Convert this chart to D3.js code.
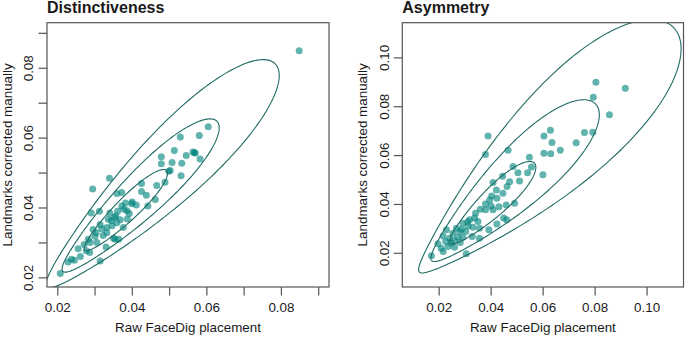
<!DOCTYPE html>
<html>
<head>
<meta charset="utf-8">
<script src="https://cdn.jsdelivr.net/npm/d3@7"></script>
<style>
  body { margin: 0; background: #fff; }
  text { font-family: "Liberation Sans", Arial, sans-serif; fill: #1a1a1a; }
</style>
</head>
<body>
<div id="chart"></div>
<script>
// Distinctiveness scores per face: raw FaceDig placement vs landmarks corrected manually
const distRaw = [0.0849, 0.0605, 0.0581, 0.0530, 0.0514, 0.0564, 0.0570, 0.0546, 0.0479, 0.0583,
  0.0479, 0.0508, 0.0534, 0.0499, 0.0503, 0.0532, 0.0489, 0.0467, 0.0340, 0.0295,
  0.0426, 0.0360, 0.0373, 0.0426, 0.0439, 0.0463, 0.0383, 0.0401, 0.0412, 0.0443,
  0.0313, 0.0291, 0.0341, 0.0362, 0.0387, 0.0353, 0.0369, 0.0388, 0.0315, 0.0333,
  0.0347, 0.0304, 0.0323, 0.0351, 0.0365, 0.0283, 0.0288, 0.0306, 0.0331, 0.0256,
  0.0278, 0.0287, 0.0262, 0.0238, 0.0229, 0.0246, 0.0315, 0.0208, 0.0355, 0.0373,
  0.0400, 0.0360, 0.0333, 0.0272, 0.0296, 0.0377, 0.0337, 0.0393, 0.0568, 0.0357,
  0.0345, 0.0379, 0.0301, 0.0319];
const distManual = [0.0849, 0.0631, 0.0606, 0.0602, 0.0563, 0.0559, 0.0556, 0.0549, 0.0545, 0.0539,
  0.0525, 0.0529, 0.0527, 0.0504, 0.0506, 0.0491, 0.0472, 0.0463, 0.0484, 0.0453,
  0.0469, 0.0440, 0.0443, 0.0446, 0.0435, 0.0423, 0.0413, 0.0416, 0.0407, 0.0404,
  0.0389, 0.0384, 0.0384, 0.0389, 0.0391, 0.0371, 0.0365, 0.0367, 0.0351, 0.0343,
  0.0348, 0.0328, 0.0320, 0.0312, 0.0309, 0.0309, 0.0300, 0.0300, 0.0287, 0.0282,
  0.0276, 0.0271, 0.0260, 0.0252, 0.0244, 0.0249, 0.0247, 0.0211, 0.0309, 0.0404,
  0.0411, 0.0356, 0.0328, 0.0294, 0.0337, 0.0343, 0.0366, 0.0383, 0.0557, 0.0376,
  0.0362, 0.0395, 0.0318, 0.0339];

// Asymmetry scores per face
const asymRaw = [0.0805, 0.0918, 0.0795, 0.0857, 0.0630, 0.0605, 0.0761, 0.0793, 0.0390, 0.0636,
  0.0729, 0.0605, 0.0631, 0.0668, 0.0380, 0.0467, 0.0549, 0.0486, 0.0557, 0.0505,
  0.0542, 0.0601, 0.0446, 0.0511, 0.0473, 0.0409, 0.0463, 0.0422, 0.0447, 0.0404,
  0.0424, 0.0492, 0.0396, 0.0380, 0.0360, 0.0402, 0.0432, 0.0460, 0.0409, 0.0450,
  0.0462, 0.0338, 0.0319, 0.0351, 0.0424, 0.0393, 0.0293, 0.0313, 0.0332, 0.0268,
  0.0357, 0.0281, 0.0304, 0.0255, 0.0230, 0.0293, 0.0274, 0.0242, 0.0261, 0.0217,
  0.0329, 0.0227, 0.0249, 0.0283, 0.0236, 0.0210, 0.0197, 0.0261, 0.0217, 0.0306,
  0.0172, 0.0380, 0.0357, 0.0312, 0.0288, 0.0342];
const asymManual = [0.0898, 0.0874, 0.0837, 0.0765, 0.0702, 0.0678, 0.0692, 0.0694, 0.0678, 0.0652,
  0.0651, 0.0608, 0.0606, 0.0620, 0.0602, 0.0620, 0.0591, 0.0553, 0.0551, 0.0528,
  0.0528, 0.0520, 0.0513, 0.0494, 0.0491, 0.0488, 0.0471, 0.0457, 0.0444, 0.0433,
  0.0423, 0.0403, 0.0416, 0.0400, 0.0378, 0.0392, 0.0389, 0.0396, 0.0376, 0.0342,
  0.0335, 0.0342, 0.0335, 0.0328, 0.0318, 0.0294, 0.0321, 0.0310, 0.0305, 0.0301,
  0.0301, 0.0287, 0.0287, 0.0280, 0.0294, 0.0264, 0.0264, 0.0260, 0.0250, 0.0269,
  0.0267, 0.0246, 0.0240, 0.0242, 0.0226, 0.0219, 0.0237, 0.0223, 0.0205, 0.0196,
  0.0188, 0.0376, 0.0260, 0.0327, 0.0296, 0.0362];

// Axis limits (same for x and y) and ticks
const distLimits = [0.01724, 0.0929];
const asymLimits = [0.0060, 0.1142];
const distTicks = [0.02, 0.03, 0.04, 0.05, 0.06, 0.07, 0.08, 0.09];
const distLabels = [0.02, 0.04, 0.06, 0.08];
const asymTicks = [0.02, 0.04, 0.06, 0.08, 0.10];
const asymLabels = [0.02, 0.04, 0.06, 0.08, 0.10];

// Bivariate log-normal fit: mean and sd of log(raw), log(manual), and their correlation
const distLogMean = [-3.304, -3.284];
const distLogSd = [0.2546, 0.2593];
const distRho = 0.928;
const asymLogMean = [-3.289, -3.3015];
const asymLogSd = [0.3661, 0.3767];
const asymRho = 0.904;

// Coverage of the contour ellipses
const levels = [0.5, 0.9, 0.99];

const titles = ["Distinctiveness", "Asymmetry"];
const xTitle = "Raw FaceDig placement";
const yTitle = "Landmarks corrected manually";

(function () {
  const width = 685, height = 337;
  const plotTop = 22.7, plotBottom = 287;
  const pointColor = "rgb(0,132,124)";
  const lineColor = "#1f6b64";

  const svg = d3.select("#chart")
      .append("svg")
      .attr("width", width)
      .attr("height", height);

  const panels = [
    { left: 47, right: 329, title: titles[0], xs: distRaw, ys: distManual, lim: distLimits,
      ticks: distTicks, labels: distLabels, mean: distLogMean, sd: distLogSd, rho: distRho },
    { left: 402.3, right: 683.5, title: titles[1], xs: asymRaw, ys: asymManual, lim: asymLimits,
      ticks: asymTicks, labels: asymLabels, mean: asymLogMean, sd: asymLogSd, rho: asymRho }
  ];

  const fmt = d3.format(".2f");

  panels.forEach((p, i) => {
    const x = d3.scaleLinear().domain(p.lim).range([p.left, p.right]);
    const y = d3.scaleLinear().domain(p.lim).range([plotBottom, plotTop]);
    const isLabel = v => p.labels.some(l => Math.abs(l - v) < 1e-9);

    // clip region = plot box
    svg.append("clipPath").attr("id", "clip" + i)
        .append("rect")
        .attr("x", p.left).attr("y", plotTop)
        .attr("width", p.right - p.left).attr("height", plotBottom - plotTop);

    const g = svg.append("g").attr("clip-path", `url(#clip${i})`);

    // scatter points
    g.selectAll("circle")
        .data(p.xs.map((v, k) => [v, p.ys[k]]))
        .join("circle")
        .attr("cx", d => x(d[0]))
        .attr("cy", d => y(d[1]))
        .attr("r", 3.5)
        .attr("fill", pointColor)
        .attr("fill-opacity", 0.62);

    // contour ellipses of the log-normal fit
    const c = Math.sqrt(1 - p.rho * p.rho);
    const line = d3.line().x(d => x(d[0])).y(d => y(d[1]));
    levels.forEach(level => {
      const r = Math.sqrt(-2 * Math.log(1 - level));
      const pts = d3.range(0, 361, 1.5).map(a => {
        const t = a * Math.PI / 180;
        const u = r * Math.cos(t), v = r * Math.sin(t);
        return [Math.exp(p.mean[0] + p.sd[0] * u),
                Math.exp(p.mean[1] + p.sd[1] * (p.rho * u + c * v))];
      });
      g.append("path")
          .attr("d", line(pts))
          .attr("fill", "none")
          .attr("stroke", lineColor)
          .attr("stroke-width", 1.1);
    });

    // box
    svg.append("rect")
        .attr("x", p.left).attr("y", plotTop)
        .attr("width", p.right - p.left).attr("height", plotBottom - plotTop)
        .attr("fill", "none")
        .attr("stroke", "#555")
        .attr("stroke-width", 1.2);

    // x axis
    const xa = svg.append("g")
        .attr("transform", `translate(0,${plotBottom})`)
        .call(d3.axisBottom(x).tickValues(p.ticks).tickSize(8.5)
          .tickFormat(v => isLabel(v) ? fmt(v) : ""));
    xa.select(".domain").remove();
    xa.selectAll(".tick line").attr("stroke", "#555").attr("stroke-width", 1.2);
    xa.selectAll(".tick text")
        .attr("y", 25).attr("dy", null)
        .style("font-size", "13.4px")
        .style("font-family", "'Liberation Sans', Arial, sans-serif")
        .attr("fill", "#1a1a1a");

    // y axis, labels parallel to the axis
    const ya = svg.append("g")
        .attr("transform", `translate(${p.left},0)`)
        .call(d3.axisLeft(y).tickValues(p.ticks).tickSize(8.5)
          .tickFormat(v => isLabel(v) ? fmt(v) : ""));
    ya.select(".domain").remove();
    ya.selectAll(".tick line").attr("stroke", "#555").attr("stroke-width", 1.2);
    ya.selectAll(".tick text")
        .attr("x", null).attr("dy", null)
        .attr("transform", "translate(-13.7,0) rotate(-90)")
        .attr("text-anchor", "middle")
        .style("font-size", "13.4px")
        .style("font-family", "'Liberation Sans', Arial, sans-serif")
        .attr("fill", "#1a1a1a");

    // titles
    svg.append("text")
        .attr("x", p.left)
        .attr("y", 12.5)
        .style("font-size", "16px")
        .style("font-weight", "bold")
        .text(p.title);

    svg.append("text")
        .attr("x", (p.left + p.right) / 2)
        .attr("y", 332)
        .attr("text-anchor", "middle")
        .style("font-size", "13.4px")
        .text(xTitle);

    svg.append("text")
        .attr("transform", `translate(${p.left - 35.5},${(plotTop + plotBottom) / 2}) rotate(-90)`)
        .attr("text-anchor", "middle")
        .style("font-size", "13.4px")
        .text(yTitle);
  });
})();
</script>
</body>
</html>
